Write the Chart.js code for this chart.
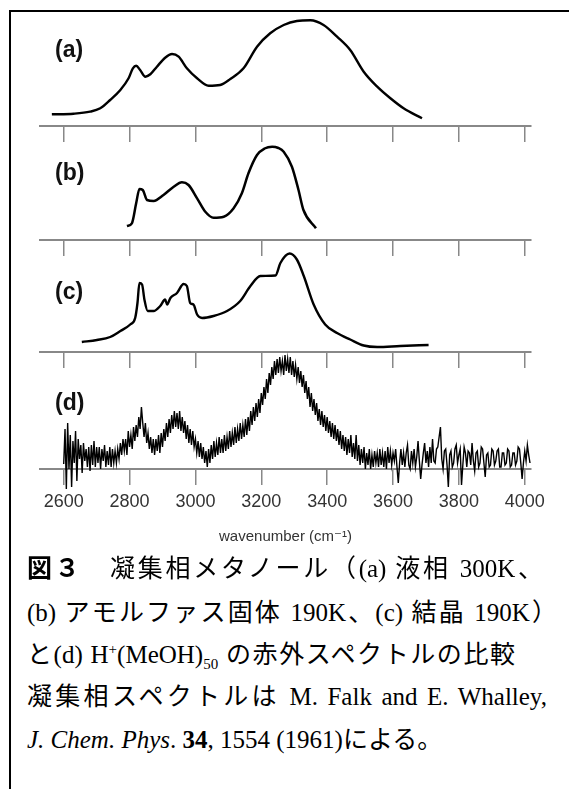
<!DOCTYPE html>
<html>
<head>
<meta charset="utf-8">
<script src="https://cdn.jsdelivr.net/npm/chart.js@4"></script>
<style>
  html, body { margin: 0; padding: 0; background: #fff; width: 569px; height: 789px; overflow: hidden; }
  #frame { position: absolute; left: 9px; top: 10px; width: 600px; height: 800px; border-left: 2px solid #000; border-top: 2px solid #000; }
  canvas { position: absolute; left: 0; }
  .tag { position: absolute; left: 55px; font: bold 23px "Liberation Sans", Arial, sans-serif; line-height: 24px; color: #111; }
  .cap { position: absolute; left: 27px; white-space: nowrap; font-size: 25px; line-height: 30px; color: #000;
         font-family: "Liberation Serif", "Noto Sans CJK JP", serif; }
  .just { text-align: justify; text-align-last: justify; }
  .cap sup, .cap sub { font-size: 15px; line-height: 0; }
</style>
</head>
<body>
<div id="frame"></div>
<canvas id="chartA" width="569" height="140" style="top:6px"></canvas>
<canvas id="chartB" width="569" height="140" style="top:120px"></canvas>
<canvas id="chartC" width="569" height="140" style="top:232px"></canvas>
<canvas id="chartD" width="569" height="197" style="top:349px"></canvas>

<div class="tag" style="top:37px">(a)</div>
<div class="tag" style="top:160px">(b)</div>
<div class="tag" style="top:279px">(c)</div>
<div class="tag" style="top:390px">(d)</div>

<div class="cap just" style="top:551px;width:516px"><b style="font-family:'Noto Sans CJK JP'">図３</b>　凝集相メタノール（(a) 液相 300K、</div>
<div class="cap just" style="top:598px;width:530px">(b) アモルファス固体 190K、(c) 結晶 190K）</div>
<div class="cap just" style="top:640px;width:488px">と(d) H<sup>+</sup>(MeOH)<sub>50</sub> の赤外スペクトルの比較</div>
<div class="cap just" style="top:682px;width:520px">凝集相スペクトルは M. Falk and E. Whalley,</div>
<div class="cap" style="top:725px"><i>J. Chem. Phys</i>. <b>34</b>, 1554 (1961)による。</div>

<script>
// wavenumber axis (cm-1)
var tickValues = [2600, 2800, 3000, 3200, 3400, 3600, 3800, 4000];
var xMin = 2528;
var xMax = 4019;

// (a) liquid 300K
var aWavenumber = [2564, 2630, 2680, 2711, 2741, 2772, 2797, 2810, 2820, 2832, 2848, 2863, 2883, 2908, 2929, 2949, 2974, 3005, 3040, 3075, 3106, 3146, 3187, 3227, 3268, 3308, 3349, 3389, 3430, 3470, 3511, 3552, 3592, 3632, 3688];
var aAbsorbance = [11.7, 12.3, 14.3, 17.7, 26, 36, 47.7, 57.7, 60.3, 56, 49.3, 51.7, 59.3, 68.3, 72, 69.3, 57.7, 47.7, 40.3, 41, 47, 57.7, 79.3, 92.7, 101, 105, 105.7, 101, 89.3, 76, 54.3, 39.3, 27.7, 17.7, 7.7];

// (b) amorphous solid 190K
var bWavenumber = [2792, 2807, 2820, 2830, 2840, 2853, 2873, 2903, 2934, 2959, 2979, 3005, 3030, 3055, 3086, 3116, 3141, 3161, 3187, 3210, 3233, 3252, 3268, 3293, 3313, 3328, 3366];
var bAbsorbance = [14, 16.7, 36.7, 51, 50, 40, 39, 45, 53.3, 57.7, 55, 41.7, 28.3, 22.3, 23.3, 31.7, 46.7, 66.7, 85, 91.5, 93.3, 92, 88.3, 73.3, 50, 30, 11.7];

// (c) crystal 190K
var cWavenumber = [2655, 2701, 2741, 2772, 2802, 2817, 2824, 2830, 2838, 2845, 2855, 2873, 2893, 2908, 2914, 2924, 2944, 2964, 2974, 2984, 2994, 3005, 3020, 3055, 3096, 3136, 3167, 3197, 3243, 3258, 3286, 3308, 3329, 3359, 3394, 3430, 3470, 3511, 3552, 3622, 3708];
var cAbsorbance = [10, 12, 15, 21, 27.5, 34, 49, 69, 67.5, 52.5, 41, 41, 46, 52.5, 47.5, 54, 59, 68, 66, 49, 47.5, 37.5, 34, 36, 41, 51, 66, 76, 76.5, 89, 98.5, 92.5, 76, 47.5, 27.5, 19, 12.5, 6.5, 5, 6, 7];

// (d) H+(MeOH)50
var dWavenumber = [
  2600, 2604, 2608, 2612, 2616, 2620, 2624, 2628, 2632, 2636, 2640, 2644, 2648, 2652, 2656, 2660, 2664, 2668, 2672, 2676,
  2680, 2684, 2688, 2692, 2696, 2700, 2704, 2708, 2712, 2716, 2720, 2724, 2728, 2732, 2736, 2740, 2744, 2748, 2752, 2756,
  2760, 2764, 2768, 2772, 2776, 2780, 2784, 2788, 2792, 2796, 2800, 2804, 2808, 2812, 2816, 2820, 2824, 2828, 2832, 2836,
  2840, 2844, 2848, 2852, 2856, 2860, 2864, 2868, 2872, 2876, 2880, 2884, 2888, 2892, 2896, 2900, 2904, 2908, 2912, 2916,
  2920, 2924, 2928, 2932, 2936, 2940, 2944, 2948, 2952, 2956, 2960, 2964, 2968, 2972, 2976, 2980, 2984, 2988, 2992, 2996,
  3000, 3004, 3008, 3012, 3016, 3020, 3024, 3028, 3032, 3036, 3040, 3044, 3048, 3052, 3056, 3060, 3064, 3068, 3072, 3076,
  3080, 3084, 3088, 3092, 3096, 3100, 3104, 3108, 3112, 3116, 3120, 3124, 3128, 3132, 3136, 3140, 3144, 3148, 3152, 3156,
  3160, 3164, 3168, 3172, 3176, 3180, 3184, 3188, 3192, 3196, 3200, 3204, 3208, 3212, 3216, 3220, 3224, 3228, 3232, 3236,
  3240, 3244, 3248, 3252, 3256, 3260, 3264, 3268, 3272, 3276, 3280, 3284, 3288, 3292, 3296, 3300, 3304, 3308, 3312, 3316,
  3320, 3324, 3328, 3332, 3336, 3340, 3344, 3348, 3352, 3356, 3360, 3364, 3368, 3372, 3376, 3380, 3384, 3388, 3392, 3396,
  3400, 3404, 3408, 3412, 3416, 3420, 3424, 3428, 3432, 3436, 3440, 3444, 3448, 3452, 3456, 3460, 3464, 3468, 3472, 3476,
  3480, 3484, 3488, 3492, 3496, 3500, 3504, 3508, 3512, 3516, 3520, 3524, 3528, 3532, 3536, 3540, 3544, 3548, 3552, 3556,
  3560, 3564, 3568, 3572, 3576, 3580, 3584, 3588, 3592, 3596, 3600, 3604, 3608, 3612, 3616, 3620, 3624, 3628, 3632, 3636,
  3640, 3644, 3648, 3652, 3656, 3660, 3664, 3668, 3672, 3676, 3680, 3684, 3688, 3692, 3696, 3700, 3704, 3708, 3712, 3716,
  3720, 3724, 3728, 3732, 3736, 3740, 3744, 3748, 3752, 3756, 3760, 3764, 3768, 3772, 3776, 3780, 3784, 3788, 3792, 3796,
  3800, 3804, 3808, 3812, 3816, 3820, 3824, 3828, 3832, 3836, 3840, 3844, 3848, 3852, 3856, 3860, 3864, 3868, 3872, 3876,
  3880, 3884, 3888, 3892, 3896, 3900, 3904, 3908, 3912, 3916, 3920, 3924, 3928, 3932, 3936, 3940, 3944, 3948, 3952, 3956,
  3960, 3964, 3968, 3972, 3976, 3980, 3984, 3988, 3992, 3996, 4000, 4004, 4008, 4012, 4016
];
var dAbsorbance = [
  5, 40, -20, 46, 0, 34, -18, 28, 6, 38, -12, 30, 10, 24, -4, 26, 8, 20, 2, 22,
  -2, 24, 4, 28, 2, 22, 6, 22, 0, 20, 8, 24, 2, 18, 4, 22, 2, 20, 6, 18,
  6, 20, 10, 26, 14, 30, 18, 30, 14, 38, 22, 34, 20, 42, 28, 44, 32, 52, 40, 62,
  46, 32, 46, 26, 36, 20, 32, 16, 30, 14, 30, 18, 34, 16, 36, 22, 40, 28, 46, 32,
  50, 36, 54, 40, 58, 42, 56, 40, 58, 38, 52, 36, 48, 30, 44, 26, 40, 24, 38, 22,
  30, 16, 28, 12, 26, 10, 22, 6, 18, 2, 20, 6, 24, 10, 28, 12, 26, 14, 32, 16,
  30, 16, 34, 18, 32, 20, 38, 22, 36, 24, 42, 26, 40, 28, 46, 30, 44, 32, 50, 34,
  52, 38, 58, 44, 62, 48, 66, 52, 70, 56, 76, 64, 82, 70, 90, 76, 96, 84, 102, 90,
  108, 94, 110, 96, 112, 98, 108, 94, 114, 98, 110, 96, 112, 94, 108, 92, 104, 90, 102, 86,
  98, 82, 94, 76, 88, 70, 82, 62, 76, 58, 70, 54, 66, 48, 60, 44, 58, 42, 54, 38,
  52, 36, 48, 32, 46, 30, 44, 28, 40, 24, 38, 20, 34, 18, 32, 14, 30, 16, 34, 12,
  26, 10, 34, 8, 24, 4, 20, 6, 22, 0, 16, 4, 20, 0, 14, 2, 18, 6, 16, 2,
  20, 4, 16, 2, 18, 0, 22, 6, 18, 4, 16, 8, 20, 2, -14, 6, 20, 4, 16, 2,
  16, 24, 4, 0, 18, 6, 20, 2, 12, 28, 8, -10, 4, 16, 26, 6, 18, 2, 22, 6,
  30, 8, 6, 20, 22, 32, 42, 10, 0, 18, 20, 4, -18, 14, 18, 2, 6, 20, 24, 6,
  14, 20, -16, 4, 22, 16, 2, 18, 16, 4, 26, 8, -2, 16, 18, 2, 6, 22, 20, 6,
  -8, 14, 16, 2, 4, 20, 18, 4, 8, 18, 20, 2, 2, 16, 16, 4, 6, 20, 18, 2,
  4, 16, 16, 4, 8, 22, 20, 6, -10, 6, 18, 8, 24, 14, 6
];

function makePanel(canvasId, xs, ys, smooth, lineWidth, showLabels) {
  var pts = [];
  for (var i = 0; i < xs.length; i++) {
    pts.push({ x: xs[i], y: ys[i] });
  }
  return new Chart(document.getElementById(canvasId), {
    type: 'line',
    data: {
      datasets: [{
        data: pts,
        borderColor: '#000',
        borderWidth: lineWidth,
        pointRadius: 0,
        fill: false,
        cubicInterpolationMode: smooth ? 'monotone' : 'default',
        tension: 0,
        clip: false
      }]
    },
    options: {
      responsive: false,
      animation: false,
      devicePixelRatio: 1,
      layout: { padding: { left: 40, right: 38, top: 0, bottom: 0 } },
      plugins: { legend: { display: false }, tooltip: { enabled: false } },
      scales: {
        x: {
          type: 'linear',
          min: xMin,
          max: xMax,
          afterBuildTicks: function (s) {
            s.ticks = tickValues.map(function (v) { return { value: v }; });
          },
          afterFit: function (s) { s.height = showLabels ? 77 : 20; },
          grid: { drawOnChartArea: false, drawTicks: true, tickLength: 16, color: '#888', lineWidth: 1.5 },
          border: { display: true, color: '#888', width: 2 },
          ticks: {
            display: showLabels,
            autoSkip: false,
            maxRotation: 0,
            padding: 6,
            color: '#333',
            font: { family: "'Liberation Sans', Arial, sans-serif", size: 18 },
            callback: function (v) { return String(v); }
          },
          title: {
            display: showLabels,
            text: 'wavenumber (cm⁻¹)',
            color: '#333',
            font: { family: "'Liberation Sans', 'DejaVu Sans', sans-serif", size: 15 },
            padding: { top: 0, bottom: 0 }
          }
        },
        y: { display: false, min: 0, max: 120 }
      }
    }
  });
}

makePanel('chartA', aWavenumber, aAbsorbance, true, 2.4, false);
makePanel('chartB', bWavenumber, bAbsorbance, true, 2.5, false);
makePanel('chartC', cWavenumber, cAbsorbance, true, 2.4, false);
makePanel('chartD', dWavenumber, dAbsorbance, false, 1.4, true);
</script>
</body>
</html>
